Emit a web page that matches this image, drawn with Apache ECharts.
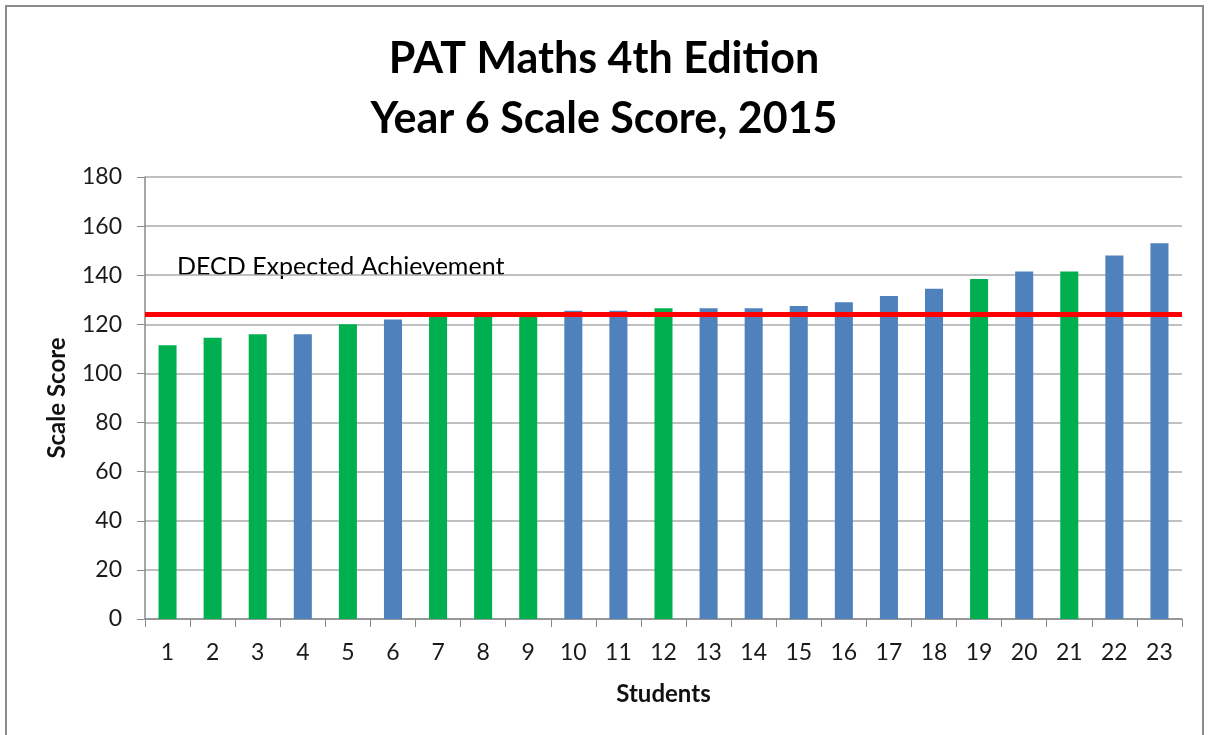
<!DOCTYPE html>
<html lang="en">
<head>
    <meta charset="UTF-8">
    <title>PAT Maths Year 6</title>
    <script src="https://cdn.jsdelivr.net/npm/echarts@6/dist/echarts.min.js"></script>
    <style>
        html, body { margin: 0; padding: 0; background: #fff; }
    </style>
</head>
<body>
    <div id="main" style="width:1208px;height:735px;"></div>
</body>
<script type="text/javascript">
    // data
    var students = ['1','2','3','4','5','6','7','8','9','10','11','12','13','14','15','16','17','18','19','20','21','22','23'];
    var scores = [111.5, 114.5, 116, 116, 120, 122, 123, 124.5, 124.5, 125.5, 125.5, 126.5, 126.5, 126.5, 127.5, 129, 131.5, 134.5, 138.5, 141.5, 141.5, 148, 153];
    // G = green bar, B = blue bar
    var groups = ['G','G','G','B','G','B','G','G','G','B','B','G','B','B','B','B','B','B','G','B','G','B','B'];
    var expected = 124;
    var yTicks = [0, 20, 40, 60, 80, 100, 120, 140, 160, 180];

    var colorOf = { G: '#00B050', B: '#4F81BD' };
    var font = 'Lato, "Open Sans", sans-serif';

    var barData = [];
    for (var i = 0; i < scores.length; i++) {
        barData.push({ value: scores[i], itemStyle: { color: colorOf[groups[i]] } });
    }

    var myChart = echarts.init(document.getElementById('main'));
    var option = {
        animation: false,
        title: {
            text: 'PAT Maths 4th Edition\nYear 6 Scale Score, 2015',
            left: 'center',
            top: 24,
            textStyle: {
                fontFamily: font,
                fontSize: 43,
                fontWeight: 'bold',
                lineHeight: 60,
                color: '#000'
            }
        },
        grid: {
            left: 145,
            right: 26,
            top: 177,
            bottom: 116
        },
        xAxis: {
            type: 'category',
            data: students,
            name: 'Students',
            nameLocation: 'middle',
            nameGap: 63,
            nameTextStyle: { fontFamily: font, fontSize: 24, fontWeight: 'bold', color: '#111' },
            axisLine: { lineStyle: { color: '#8a8a8a', width: 1.5 } },
            axisTick: { show: true, length: 8, lineStyle: { color: '#8a8a8a' } },
            axisLabel: { margin: 22, fontFamily: font, fontSize: 23, color: '#1a1a1a' }
        },
        yAxis: {
            type: 'value',
            min: yTicks[0],
            max: yTicks[yTicks.length - 1],
            interval: 20,
            name: 'Scale Score',
            nameLocation: 'middle',
            nameGap: 76,
            nameTextStyle: { fontFamily: font, fontSize: 24, fontWeight: 'bold', color: '#111' },
            axisLine: { show: true, lineStyle: { color: '#8a8a8a', width: 1.5 } },
            axisTick: { show: true, length: 8, lineStyle: { color: '#8a8a8a' } },
            axisLabel: { margin: 23, fontFamily: font, fontSize: 23, color: '#1a1a1a' },
            splitLine: { lineStyle: { color: '#ababab', width: 1.5 } }
        },
        series: [
            {
                name: 'Scale Score',
                type: 'bar',
                barWidth: '40%',
                data: barData,
                markLine: {
                    silent: true,
                    symbol: 'none',
                    label: { show: false },
                    lineStyle: { color: '#FF0000', width: 5, type: 'solid' },
                    data: [{ yAxis: expected }]
                }
            }
        ],
        graphic: [
            {
                type: 'rect',
                shape: { x: 6, y: 6, width: 1197, height: 780 },
                style: { fill: 'none', stroke: '#8c8c8c', lineWidth: 2 },
                silent: true
            },
            {
                type: 'rect',
                shape: { x: 157, y: 262, width: 419, height: 24 },
                style: { fill: '#fff' },
                silent: true
            },
            {
                type: 'text',
                left: 177,
                top: 254,
                style: {
                    text: 'DECD Expected Achievement',
                    fontFamily: font,
                    fontSize: 25,
                    fill: '#000'
                },
                silent: true
            }
        ]
    };
    myChart.setOption(option);
</script>
</html>
